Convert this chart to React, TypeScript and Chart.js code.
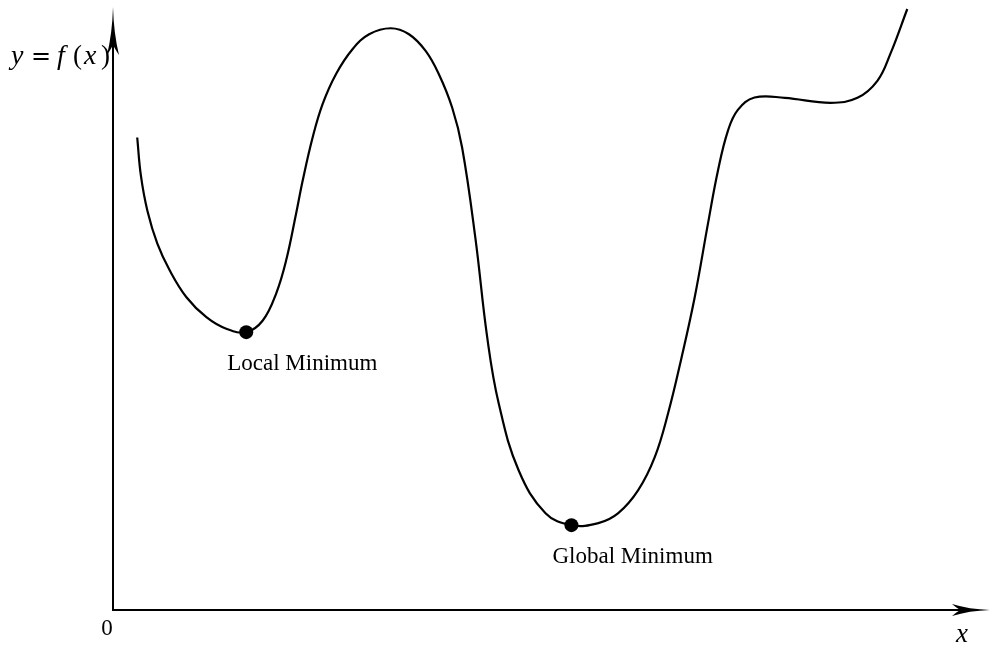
import { useEffect, useRef } from "react";
import { Chart, registerables } from "chart.js";

Chart.register(...registerables);

// Sampled curve f(x)
const curveX = [
  0.243, 0.28, 0.345, 0.445, 0.57, 0.737, 0.937, 1.137, 1.337, 1.503, 1.637, 1.737, 1.837,
  1.903, 2.003, 2.103, 2.237, 2.403, 2.57, 2.787, 2.97, 3.137, 3.27, 3.403, 3.503, 3.637,
  3.755, 3.87, 4.07, 4.34, 4.6, 4.87, 5.07, 5.27, 5.437, 5.57, 5.703, 5.837, 5.97, 6.07,
  6.17, 6.27, 6.437, 6.74, 7.2, 7.47, 7.67, 7.8, 7.97,
];
const curveY = [
  4.733, 4.35, 4.0, 3.67, 3.4, 3.133, 2.933, 2.817, 2.783, 2.9, 3.17, 3.5, 3.97,
  4.3, 4.733, 5.067, 5.367, 5.617, 5.767, 5.827, 5.767, 5.6, 5.367, 5.033, 4.633, 3.72,
  2.73, 2.07, 1.4, 0.97, 0.85, 0.87, 0.97, 1.2, 1.533, 1.97, 2.52, 3.133, 3.87, 4.4,
  4.8, 5.01, 5.133, 5.13, 5.08, 5.13, 5.3, 5.57, 6.02,
];

// Marked minima
const minimaX = [1.337, 4.6];
const minimaY = [2.783, 0.85];
const minimaLabels = ["Local Minimum", "Global Minimum"];

const originLabel = "0";
const xAxisLabel = "x";

const X_MAX = 8.8;
const Y_MAX = 6.04;

const SERIF = "'Liberation Serif', 'DejaVu Serif', serif";

function drawArrowHead(
  ctx: CanvasRenderingContext2D,
  tipX: number,
  tipY: number,
  dx: number,
  dy: number,
  len: number,
  half: number
) {
  // u: direction of the arrow, v: perpendicular
  const ux = dx, uy = dy;
  const vx = -dy, vy = dx;
  const p = (a: number, b: number) => [tipX + ux * a + vx * b, tipY + uy * a + vy * b];
  const tip = p(0, 0);
  const barbL = p(-len, half);
  const barbR = p(-len, -half);
  const notch = p(-0.78 * len, 0);
  const c1L = p(-0.55 * len, 0.12 * half);
  const c2L = p(-0.86 * len, 0.25 * half);
  const c1R = p(-0.55 * len, -0.12 * half);
  const c2R = p(-0.86 * len, -0.25 * half);
  ctx.beginPath();
  ctx.moveTo(tip[0], tip[1]);
  ctx.quadraticCurveTo(c1L[0], c1L[1], barbL[0], barbL[1]);
  ctx.quadraticCurveTo(c2L[0], c2L[1], notch[0], notch[1]);
  ctx.quadraticCurveTo(c2R[0], c2R[1], barbR[0], barbR[1]);
  ctx.quadraticCurveTo(c1R[0], c1R[1], tip[0], tip[1]);
  ctx.closePath();
  ctx.fill();
}

const axesPlugin = {
  id: "mathAxes",
  beforeDatasetsDraw(chart: any) {
    const { ctx, scales } = chart;
    const xs = scales.x;
    const ys = scales.y;
    const ox = xs.getPixelForValue(0);
    const oy = ys.getPixelForValue(0);
    const xEnd = xs.getPixelForValue(X_MAX);
    const yEnd = ys.getPixelForValue(Y_MAX);

    ctx.save();
    ctx.strokeStyle = "#000";
    ctx.fillStyle = "#000";
    ctx.lineWidth = 2;
    ctx.lineCap = "butt";

    // axis lines
    ctx.beginPath();
    ctx.moveTo(ox - 1, oy);
    ctx.lineTo(xEnd - 20, oy);
    ctx.stroke();
    ctx.beginPath();
    ctx.moveTo(ox, oy + 1);
    ctx.lineTo(ox, yEnd + 25);
    ctx.stroke();

    // arrow heads
    drawArrowHead(ctx, xEnd, oy, 1, 0, 38, 6);
    drawArrowHead(ctx, ox, yEnd, 0, -1, 48, 6);

    // origin and axis labels
    ctx.textBaseline = "alphabetic";
    ctx.font = `23px ${SERIF}`;
    ctx.textAlign = "center";
    ctx.fillText(originLabel, ox - 6, oy + 25);

    ctx.font = `italic 27px ${SERIF}`;
    ctx.fillText(xAxisLabel, xEnd - 28, oy + 32);

    // y = f(x)
    const base = yEnd + 57;
    ctx.textAlign = "left";
    const pieces: [string, string, number][] = [
      ["y", `italic 28px ${SERIF}`, 11],
      ["=", `24px 'DejaVu Serif', serif`, 31],
      ["f", `italic 28px ${SERIF}`, 57],
      ["(", `27px ${SERIF}`, 73],
      ["x", `italic 28px ${SERIF}`, 84],
      [")", `27px ${SERIF}`, 101],
    ];
    for (const [t, font, x] of pieces) {
      ctx.font = font;
      ctx.fillText(t, x, base);
    }
    ctx.restore();
  },
  afterDatasetsDraw(chart: any) {
    const { ctx, scales } = chart;
    ctx.save();
    ctx.fillStyle = "#000";
    ctx.font = `23px ${SERIF}`;
    ctx.textAlign = "left";
    ctx.textBaseline = "alphabetic";
    minimaLabels.forEach((label, i) => {
      const px = scales.x.getPixelForValue(minimaX[i]);
      const py = scales.y.getPixelForValue(minimaY[i]);
      ctx.fillText(label, px - 19, py + 38);
    });
    ctx.restore();
  },
};

export default function App() {
  const canvasRef = useRef<HTMLCanvasElement | null>(null);

  useEffect(() => {
    const canvas = canvasRef.current;
    if (!canvas) return;
    const chart = new Chart(canvas, {
      type: "scatter",
      data: {
        datasets: [
          {
            data: curveX.map((x, i) => ({ x, y: curveY[i] })),
            showLine: true,
            borderColor: "#000",
            borderWidth: 2.2,
            pointRadius: 0,
            tension: 0.4,
            clip: false,
          } as any,
          {
            data: minimaX.map((x, i) => ({ x, y: minimaY[i] })),
            showLine: false,
            pointRadius: 7,
            pointBackgroundColor: "#000",
            pointBorderWidth: 0,
            clip: false,
          } as any,
        ],
      },
      options: {
        animation: false,
        responsive: false,
        maintainAspectRatio: false,
        events: [],
        layout: { padding: { left: 113, right: 4, top: 6, bottom: 36 } },
        plugins: {
          legend: { display: false },
          tooltip: { enabled: false },
        },
        scales: {
          x: { type: "linear", min: 0, max: X_MAX, display: false },
          y: { type: "linear", min: 0, max: Y_MAX, display: false },
        },
      },
      plugins: [axesPlugin],
    });
    return () => chart.destroy();
  }, []);

  return (
    <div style={{ position: "absolute", left: 0, top: 0, width: 997, height: 646, background: "#fff" }}>
      <canvas ref={canvasRef} width={997} height={646} style={{ width: 997, height: 646 }} />
    </div>
  );
}
